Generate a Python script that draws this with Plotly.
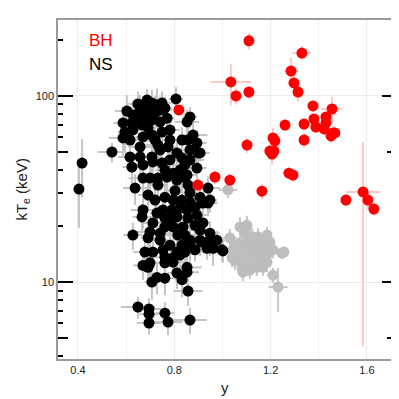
import plotly.graph_objects as go

# NS sources (black)
ns_x = [0.807, 0.603, 0.678, 0.707, 0.728, 0.749, 0.658, 0.691, 0.720, 0.741,
        0.628, 0.670, 0.707, 0.587, 0.624, 0.865, 0.853, 0.749, 0.595, 0.628,
        0.587, 0.616, 0.670, 0.707, 0.782, 0.878, 0.857, 0.894, 0.541, 0.732,
        0.741, 0.774, 0.865, 0.898, 0.811, 0.616, 0.658, 0.707, 0.711, 0.749,
        0.624, 0.670, 0.832, 0.865, 0.894, 0.824, 0.795, 0.853, 0.699, 0.732,
        0.637, 0.691, 0.670, 0.732, 0.770, 0.811, 0.857, 0.832, 0.940, 0.907,
        0.940, 0.761, 0.795, 0.832, 0.865, 0.886, 0.670, 0.666, 0.728, 0.753,
        0.790, 0.824, 0.853, 0.761, 0.811, 0.857, 0.894, 0.711, 0.761, 0.795,
        0.836, 0.886, 0.919, 0.907, 0.699, 0.741, 0.628, 0.691, 0.741, 0.844,
        0.865, 0.907, 0.948, 0.977, 0.832, 0.865, 0.936, 0.961, 0.998, 0.678,
        0.711, 0.753, 0.811, 0.844, 0.761, 0.795, 0.824, 0.670, 0.699, 0.853,
        0.691, 0.761, 0.795, 0.728, 0.707, 0.761, 0.811, 0.853, 0.832, 0.857,
        0.649, 0.695, 0.695, 0.761, 0.695, 0.774, 0.865, 0.417, 0.404, 0.919,
        0.948, 0.915, 1.002, 0.948, 0.907,
        0.649, 0.687, 0.761, 0.666, 0.741, 0.770, 0.645, 0.691, 0.782, 0.720,
        0.658, 0.832, 0.782, 0.844, 0.761, 0.803, 0.865, 0.720, 0.782, 0.815,
        0.886, 0.782]
ns_y = [96.4, 83.0, 89.5, 91.7, 89.5, 91.7, 84.1, 82.0, 81.1, 84.1,
        79.1, 76.2, 74.3, 71.6, 71.6, 77.1, 72.5, 64.0, 64.0, 65.7,
        59.5, 58.0, 60.2, 61.7, 58.0, 61.7, 58.0, 55.9, 50.0, 54.5,
        51.3, 53.2, 51.3, 49.4, 49.4, 47.0, 47.0, 47.0, 44.2, 43.6,
        41.5, 42.6, 46.4, 45.3, 41.0, 40.0, 38.5, 37.6, 36.2, 36.2,
        32.0, 29.4, 36.2, 33.2, 36.7, 35.3, 33.2, 36.7, 32.0, 28.6,
        26.6, 28.6, 27.6, 27.6, 26.9, 25.3, 24.4, 22.4, 23.5, 24.4,
        24.4, 25.0, 24.4, 22.1, 22.4, 22.1, 22.9, 20.8, 19.8, 19.8,
        19.8, 20.2, 20.8, 19.0, 18.6, 18.3, 17.9, 17.3, 16.8, 17.9,
        16.8, 16.8, 16.8, 16.8, 15.8, 15.8, 15.2, 15.2, 14.9, 14.5,
        14.5, 14.9, 14.5, 14.5, 13.6, 13.5, 14.0, 12.3, 12.7, 12.0,
        12.0, 12.7, 12.8, 10.6, 10.0, 10.5, 11.2, 11.3, 10.3, 8.95,
        7.35, 7.17, 6.73, 6.81, 6.03, 6.10, 6.25, 43.6, 31.6, 26.6,
        18.3, 16.4, 14.7, 27.6, 49.4,
        90.6, 95.0, 86.0, 70.0, 72.5, 76.0, 74.3, 67.5, 65.7, 58.0,
        53.2, 58.0, 45.3, 42.6, 40.0, 31.0, 30.3, 27.6, 21.5, 17.9,
        14.9, 15.8]
ns_ex = [0.03, 0.05, 0.04, 0.03, 0.05, 0.04, 0.06, 0.03, 0.04, 0.05,
         0.04, 0.03, 0.05, 0.04, 0.06, 0.03, 0.05, 0.04, 0.03, 0.05,
         0.06, 0.04, 0.03, 0.05, 0.04, 0.06, 0.03, 0.04, 0.06, 0.05,
         0.03, 0.04, 0.05, 0.03, 0.04, 0.05, 0.06, 0.03, 0.04, 0.05,
         0.04, 0.05, 0.03, 0.06, 0.04, 0.03, 0.05, 0.04, 0.05, 0.03,
         0.05, 0.04, 0.06, 0.03, 0.04, 0.05, 0.03, 0.04, 0.05, 0.06,
         0.04, 0.05, 0.03, 0.04, 0.06, 0.03, 0.05, 0.04, 0.03, 0.05,
         0.04, 0.06, 0.03, 0.05, 0.04, 0.03, 0.05, 0.04, 0.06, 0.03,
         0.05, 0.04, 0.03, 0.04, 0.06, 0.05, 0.04, 0.03, 0.05, 0.04,
         0.06, 0.03, 0.04, 0.05, 0.04, 0.03, 0.05, 0.04, 0.03, 0.05,
         0.04, 0.05, 0.03, 0.06, 0.04, 0.05, 0.03, 0.04, 0.05, 0.06,
         0.03, 0.04, 0.05, 0.04, 0.03, 0.06, 0.04, 0.05, 0.03, 0.06,
         0.07, 0.05, 0.04, 0.04, 0.05, 0.06, 0.07, 0.01, 0.01, 0.03,
         0.04, 0.03, 0.04, 0.03, 0.04,
         0.04, 0.05, 0.03, 0.04, 0.05, 0.03, 0.04, 0.05, 0.04, 0.03,
         0.05, 0.04, 0.03, 0.05, 0.04, 0.03, 0.05, 0.04, 0.03, 0.05,
         0.04, 0.03]
ns_ey = [15, 18, 12, 16, 20, 14, 17, 13, 19, 15,
         14, 16, 12, 15, 13, 10, 12, 11, 14, 12,
         12, 10, 13, 11, 9, 10, 12, 9, 6, 11,
         10, 9, 8, 10, 9, 8, 10, 9, 8, 7,
         8, 9, 7, 8, 7, 8, 6, 7, 7, 6,
         6, 5, 7, 6, 7, 6, 5, 6, 5, 5,
         4, 5, 5, 4, 5, 4, 5, 4, 4, 5,
         4, 4, 5, 4, 4, 3, 4, 4, 3, 4,
         3, 4, 3, 3, 4, 3, 3, 3, 3, 3,
         3, 3, 3, 2, 3, 3, 2, 3, 2, 2,
         2, 3, 2, 2, 2, 2, 3, 2, 2, 2,
         2, 2, 2, 2, 2, 2, 2, 2, 2, 1.5,
         1, 1, 0.8, 1, 0.8, 0.9, 1, 15, 12, 4,
         3, 2, 2, 4, 5,
         15, 14, 13, 12, 13, 15, 12, 11, 12, 10,
         9, 10, 8, 7, 7, 5, 5, 5, 4, 3,
         2, 3]

# second NS group (grey)
gr_x = [1.023, 1.031, 1.052, 1.073, 1.102, 1.094, 1.123, 1.148, 1.185, 1.073,
        1.102, 1.127, 1.164, 1.189, 1.210, 1.060, 1.085, 1.114, 1.148, 1.185,
        1.052, 1.081, 1.114, 1.148, 1.185, 1.081, 1.106, 1.143, 1.168, 1.085,
        1.114, 1.255, 1.247, 1.210, 1.231, 1.044, 1.197, 1.094, 1.135, 1.164,
        1.102, 1.168, 1.040]
gr_y = [31.3, 17.3, 15.4, 19.8, 20.2, 18.3, 17.5, 17.5, 17.9, 16.2,
        16.2, 15.8, 15.8, 15.4, 14.9, 14.0, 14.3, 14.3, 14.3, 14.0,
        13.1, 12.8, 12.8, 13.1, 12.8, 11.9, 12.0, 12.0, 12.0, 11.3,
        11.6, 14.5, 14.3, 10.9, 9.4, 14.9, 16.4, 18.8, 16.4, 16.8,
        14.9, 14.9, 13.5]
gr_ex = [0.04, 0.03, 0.02, 0.02, 0.02, 0.02, 0.02, 0.02, 0.02, 0.02,
         0.02, 0.02, 0.02, 0.02, 0.02, 0.02, 0.02, 0.02, 0.02, 0.02,
         0.02, 0.02, 0.02, 0.02, 0.02, 0.02, 0.02, 0.02, 0.02, 0.02,
         0.02, 0.01, 0.01, 0.025, 0.04, 0.02, 0.02, 0.02, 0.02, 0.02,
         0.02, 0.02, 0.02]
gr_ey = [3, 2, 1.5, 2.5, 2.5, 2, 2, 2, 2, 1.5,
         1.5, 1.5, 1.5, 1.5, 1.5, 1.5, 1.5, 1.5, 1.5, 1.5,
         1.5, 1.5, 1.5, 1.5, 1.5, 1.2, 1.2, 1.2, 1.2, 1.2,
         1.2, 1, 1, 1, 2.5, 1.5, 1.5, 2, 1.5, 1.5,
         1.5, 1.5, 1.5]

# BH sources (red)
bh_x = [1.110, 1.330, 1.285, 1.297, 1.314, 1.035, 1.056, 1.110, 1.376, 1.455,
        1.380, 1.430, 1.430, 1.260, 1.339, 1.388, 1.422, 1.459, 1.467, 1.451,
        1.210, 1.218, 1.102, 1.339, 1.197, 1.214, 1.206, 1.276, 1.293, 0.969,
        1.031, 1.164, 1.584, 1.513, 1.604, 1.629, 0.819, 0.898]
bh_y = [197.7, 170, 136, 117.5, 105, 119, 100, 105, 88.4, 85.1,
        75.2, 77.1, 71.6, 69.8, 70.7, 68.1, 66.5, 63.3, 63.3, 61.0,
        59.5, 57.3, 54.5, 58.0, 50.6, 50.6, 48.7, 38.5, 37.6, 36.7,
        35.3, 30.8, 30.5, 27.6, 27.6, 24.7, 84.1, 33.2]
bh_ex = [0.015, 0.04, 0.03, 0.015, 0.01, 0.085, 0.01, 0.01, 0.01, 0.045,
         0.01, 0.01, 0.01, 0.01, 0.02, 0.01, 0.01, 0.01, 0.01, 0.01,
         0.015, 0.01, 0.015, 0.015, 0.01, 0.01, 0.01, 0.01, 0.01, 0.01,
         0.01, 0.01, 0.07, 0.01, 0.02, 0.02, 0.01, 0.01]
bh_ey = [20, 15, 25, 12, 12, 30, 10, 8, 5, 14,
         5, 5, 5, 5, 5, 5, 5, 5, 5, 5,
         8, 5, 5, 5, 5, 5, 6, 3, 3, 3,
         3, 3, 26, 2, 3, 2, 5, 3]

fig = go.Figure()

# each group sits on its own (identical) log axis so the overlay axes get drawn
groups = [
    (gr_x, gr_y, gr_ex, gr_ey, "#bdbdbd", "#c8c8c8", "y"),
    (ns_x, ns_y, ns_ex, ns_ey, "black", "#c4c4c4", "y2"),
    (bh_x, bh_y, bh_ex, bh_ey, "red", "#ffc8c8", "y3"),
]
for gx, gy, ex, ey, col, ecol, yax in groups:
    fig.add_trace(go.Scatter(
        x=gx, y=gy, mode="markers", yaxis=yax,
        marker=dict(color=col, size=11, line=dict(width=0)),
        error_x=dict(type="data", array=ex, color=ecol, thickness=2, width=0),
        error_y=dict(type="data", array=ey, color=ecol, thickness=2, width=0),
        showlegend=False,
    ))

font = "Liberation Sans, Arial, sans-serif"
ytick_vals = [4, 5, 6, 7, 8, 9, 10, 20, 30, 40, 50, 60, 70, 80, 90, 100, 200]
ytick_text = ["" if v not in (10, 100) else str(v) for v in ytick_vals]
yrange = [0.587, 2.408]

# page body adds an 8px margin, so the figure is 391px and shifted margins
fig.update_layout(
    width=391, height=391,
    margin=dict(l=50, r=2, t=12, b=40),
    paper_bgcolor="white", plot_bgcolor="white",
    font=dict(family=font, color="#222", size=11),
    xaxis=dict(
        range=[0.317, 1.725], tickvals=[0.4, 0.8, 1.2, 1.6],
        ticktext=["0.4", "0.8", "1.2", "1.6"], automargin=False,
        showgrid=True, gridcolor="#ececec", gridwidth=1,
        minor=dict(tickvals=[0.6, 1.0, 1.4], showgrid=True, gridcolor="#f2f2f2"),
        zeroline=False, showline=True, linecolor="#9a9a9a", linewidth=1.5,
        mirror=True, ticks="",
    ),
    # short ticks at every value, labels only at 10 and 100
    yaxis=dict(
        type="log", range=yrange, tickvals=ytick_vals, ticktext=ytick_text,
        automargin=False, showgrid=False,
        ticks="inside", ticklen=5, tickwidth=2, tickcolor="black",
        zeroline=False, showline=True, linecolor="#9a9a9a", linewidth=1.5,
        mirror="ticks",
    ),
    # long ticks and grid at the decades
    yaxis2=dict(
        type="log", range=yrange, overlaying="y", side="left", anchor="x",
        tickvals=[10, 100], ticks="inside", ticklen=15, tickwidth=2, tickcolor="black",
        showticklabels=False, showgrid=True, gridcolor="#ececec",
        zeroline=False, showline=False, mirror="ticks", automargin=False,
    ),
    # medium ticks at 5 and 50
    yaxis3=dict(
        type="log", range=yrange, overlaying="y", side="left", anchor="x",
        tickvals=[5, 50], ticks="inside", ticklen=10, tickwidth=2, tickcolor="black",
        showticklabels=False, showgrid=False, zeroline=False, showline=False,
        mirror="ticks", automargin=False,
    ),
    annotations=[
        dict(x=0.085, y=0.941, xref="paper", yref="paper", text="BH", showarrow=False,
             xanchor="left", yanchor="middle", font=dict(size=17, color="red", family=font)),
        dict(x=0.085, y=0.870, xref="paper", yref="paper", text="NS", showarrow=False,
             xanchor="left", yanchor="middle", font=dict(size=17, color="black", family=font)),
        dict(x=0.493, y=-0.085, xref="paper", yref="paper", text="y", showarrow=False,
             xanchor="center", yanchor="middle", font=dict(size=15, color="#222", family=font)),
        dict(x=-0.106, y=0.5, xref="paper", yref="paper", text="kT<sub>e</sub> (keV)",
             showarrow=False, textangle=-90, xanchor="center", yanchor="middle",
             font=dict(size=15, color="#222", family=font)),
    ],
)

fig.write_html("out.html")
